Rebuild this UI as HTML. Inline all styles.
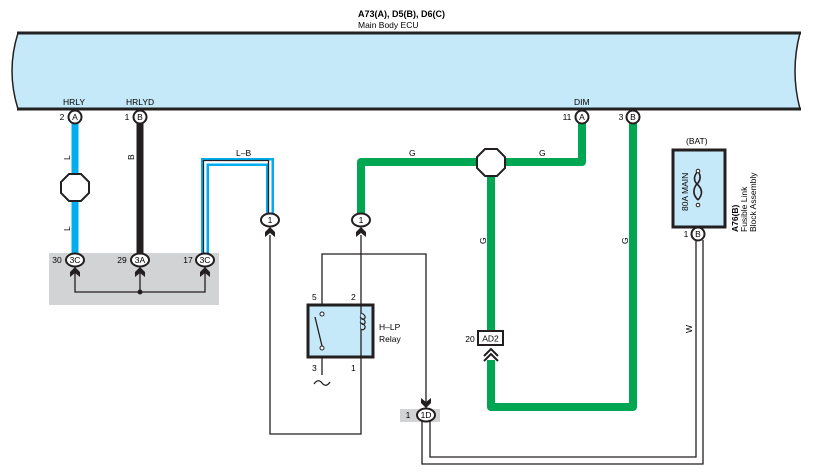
<!DOCTYPE html>
<html><head><meta charset="utf-8"><style>
html,body{margin:0;padding:0;background:#fff;}
svg{display:block;font-family:"Liberation Sans",sans-serif;}
</style></head><body>
<svg width="813" height="474" viewBox="0 0 813 474" xmlns="http://www.w3.org/2000/svg">
<!-- ECU -->
<path d="M18,33 L800,33 Q790,71 800,109 L18,109 Q6,71 18,33 Z" fill="#c6e9f9" stroke="none"/>
<line x1="17" y1="33" x2="801" y2="33" stroke="#222" stroke-width="3"/>
<line x1="17" y1="109" x2="801" y2="109" stroke="#222" stroke-width="3"/>
<path d="M18,33 Q6,71 18,109" fill="none" stroke="#222" stroke-width="1.5"/>
<path d="M800,33 Q790,71 800,109" fill="none" stroke="#222" stroke-width="1.5"/>
<text x="358" y="17" font-size="9" font-weight="bold">A73(A), D5(B), D6(C)</text>
<text x="358" y="28" font-size="8.5">Main Body ECU</text>
<text x="63" y="105" font-size="8.5">HRLY</text>
<text x="126" y="105" font-size="8.5">HRLYD</text>
<text x="574" y="105" font-size="8.5">DIM</text>

<!-- gray box -->
<rect x="49" y="253" width="170" height="52" fill="#d2d3d5"/>
<rect x="400" y="409" width="40" height="13" fill="#d2d3d5"/>

<!-- wires -->
<line x1="75" y1="122" x2="75" y2="254" stroke="#00aeef" stroke-width="7"/>
<line x1="140" y1="122" x2="140" y2="254" stroke="#231f20" stroke-width="7"/>
<path d="M205,254 V162 H270 V214" fill="none" stroke="#00aeef" stroke-width="8"/>
<path d="M205,254 V162 H270 V214" fill="none" stroke="#fff" stroke-width="3"/>
<path d="M203.5,254 V160.5 H268.5 V214" fill="none" stroke="#231f20" stroke-width="1.3"/>
<g stroke="#00a651" stroke-width="8" fill="none" stroke-linejoin="round">
<path d="M361,214 V162 H582 V122"/>
<path d="M491,170 V332"/>
<path d="M491,360 V407 H633 V122"/>
</g>
<!-- thin wires -->
<g stroke="#231f20" stroke-width="1.3" fill="none">
<path d="M75,272 V292 H205 V272"/>
<line x1="140" y1="272" x2="140" y2="292"/>
<path d="M270,235 V434 H361 V235"/>
<path d="M322,313 V254 H426 V404"/>
<line x1="322" y1="349" x2="322" y2="375"/>
<path d="M422,420 V464 H703 V240"/>
<path d="M430,420 V457 H696 V240"/>
<line x1="698" y1="200" x2="698" y2="228"/>
</g>
<circle cx="140" cy="292" r="2.5" fill="#231f20"/>

<!-- octagons -->
<polygon points="69,174 81,174 89,182 89,193 81,201 69,201 61,193 61,182" fill="#fff" stroke="#231f20" stroke-width="2"/>
<polygon points="485,149 497,149 505,157 505,168 497,176 485,176 477,168 477,157" fill="#fff" stroke="#231f20" stroke-width="2"/>

<!-- ECU pins -->
<g font-size="8.5" text-anchor="middle">
<g stroke="#231f20" stroke-width="2" fill="#fff">
<circle cx="75" cy="117" r="6.5"/><circle cx="140" cy="117" r="6.5"/>
<circle cx="582" cy="117" r="6.5"/><circle cx="633" cy="117" r="6.5"/>
<circle cx="698" cy="234" r="6.5"/>
</g>
<text x="75" y="120">A</text><text x="140" y="120">B</text>
<text x="582" y="120">A</text><text x="633" y="120">B</text>
<text x="698" y="237">B</text>
<text x="62" y="120">2</text><text x="127" y="120">1</text>
<text x="567" y="120">11</text><text x="621" y="120">3</text>
<text x="686" y="237">1</text>

<!-- bottom connectors -->
<g stroke="#231f20" stroke-width="2" fill="#fff">
<ellipse cx="75" cy="260" rx="9" ry="6.5"/><ellipse cx="140" cy="260" rx="9" ry="6.5"/><ellipse cx="205" cy="260" rx="9" ry="6.5"/>
<ellipse cx="270" cy="220" rx="9" ry="6.5"/><ellipse cx="361" cy="220" rx="9" ry="6.5"/>
<ellipse cx="426" cy="415" rx="9" ry="6.5"/>
</g>
<text x="75" y="263">3C</text><text x="140" y="263">3A</text><text x="205" y="263">3C</text>
<text x="270" y="223">1</text><text x="361" y="223">1</text><text x="426" y="418">1D</text>
<text x="57" y="263">30</text><text x="122" y="263">29</text><text x="188" y="263">17</text>
<text x="408" y="418">1</text>
<rect x="478" y="331" width="25" height="14" fill="#fff" stroke="#231f20" stroke-width="2"/>
<text x="490.5" y="341.5">AD2</text>
<text x="470" y="342">20</text>
</g>
<!-- arrows -->
<g fill="#231f20">
<path d="M75,267 L80,272 L80,277 L75,273 L70,277 L70,272Z"/>
<path d="M140,267 L145,272 L145,277 L140,273 L135,277 L135,272Z"/>
<path d="M205,267 L210,272 L210,277 L205,273 L200,277 L200,272Z"/>
<path d="M270,227 L275,232 L275,237 L270,233 L265,237 L265,232Z"/>
<path d="M361,227 L366,232 L366,237 L361,233 L356,237 L356,232Z"/>
<path d="M426,408 L431,403 L431,398 L426,402 L421,398 L421,403Z"/>
</g>
<path d="M484,356 L491,349 L498,356 M484,361 L491,354 L498,361" fill="none" stroke="#231f20" stroke-width="2"/>

<!-- wire labels -->
<g font-size="8.5">
<text x="236" y="156">L–B</text>
<text x="409" y="156">G</text>
<text x="539" y="156">G</text>
<text transform="translate(70,160) rotate(-90)">L</text>
<text transform="translate(70,231) rotate(-90)">L</text>
<text transform="translate(134,160) rotate(-90)">B</text>
<text transform="translate(486,244) rotate(-90)">G</text>
<text transform="translate(628,244) rotate(-90)">G</text>
<text transform="translate(692,333) rotate(-90)">W</text>
</g>

<!-- relay -->
<rect x="308" y="305" width="65" height="52" fill="#c6e9f9" stroke="#231f20" stroke-width="3"/>
<line x1="361" y1="305" x2="361" y2="357" stroke="#231f20" stroke-width="1.3"/>
<path d="M361,313 q5,2 4,5 q-2,3 -4,0 q5,2 4,5 q-2,3 -4,0 q5,2 4,5 q-2,3 -4,1" fill="#c6e9f9" stroke="#231f20" stroke-width="1.2"/>
<line x1="315" y1="317" x2="322" y2="346" stroke="#231f20" stroke-width="1.3"/>
<circle cx="322" cy="314" r="2" fill="#fff" stroke="#231f20"/>
<circle cx="322" cy="348" r="2" fill="#fff" stroke="#231f20"/>
<g font-size="8.5">
<text x="312" y="300">5</text><text x="351" y="300">2</text>
<text x="312" y="371">3</text><text x="351" y="371">1</text>
<text x="379" y="330">H–LP</text><text x="379" y="342">Relay</text>
</g>
<path d="M314,384 q4,-6 8,-1 q4,5 8,-1" fill="none" stroke="#231f20" stroke-width="1.3"/>

<!-- fuse -->
<rect x="673" y="150" width="52" height="77" fill="#c6e9f9" stroke="#231f20" stroke-width="3"/>
<path d="M698,171 q-7,8 0,14 q7,7 0,15 M698,171 q5,8 -2,14 q-5,8 2,15" fill="none" stroke="#231f20" stroke-width="1.6"/>
<circle cx="698" cy="171" r="1.8" fill="#fff" stroke="#231f20"/>
<circle cx="698" cy="205" r="1.8" fill="#fff" stroke="#231f20"/>
<g font-size="8.5">
<text x="686" y="144">(BAT)</text>
<text transform="translate(688,211) rotate(-90)">80A MAIN</text>
<text transform="translate(738,232) rotate(-90)" font-weight="bold">A76(B)</text>
<text transform="translate(747,232) rotate(-90)">Fusible Link</text>
<text transform="translate(756,232) rotate(-90)">Block Assembly</text>
</g>
</svg>
</body></html>
